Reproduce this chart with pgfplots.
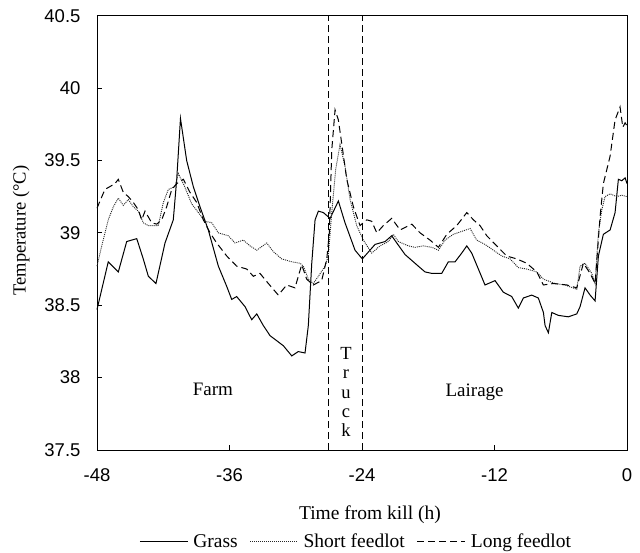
\documentclass[border=0pt]{standalone}
\usepackage{fontspec}
\setmainfont{Liberation Serif}
\newfontfamily\sansf{Liberation Sans}
\usepackage{pgfplots}
\pgfplotsset{compat=1.18}
\begin{document}
\begin{tikzpicture}
\useasboundingbox (-97pt,-102pt) rectangle (543pt,450pt);
\begin{axis}[
  at={(0pt,0pt)}, anchor=south west,
  width=530pt, height=434.3pt, scale only axis,
  xmin=-48, xmax=0, ymin=37.5, ymax=40.5,
  xtick={-48,-36,-24,-12,0},
  ytick={37.5,38,38.5,39,39.5,40,40.5},
  tick align=inside, xtick pos=bottom, ytick pos=left,
  major tick length=5pt,
  axis line style={line width=0.9pt},
  tick style={line width=0.8pt, black},
  /pgf/number format/assume math mode=true,
  ticklabel style={font=\sansf\fontsize{18.5}{20}\selectfont},
  yticklabel style={xshift=-13pt},
  xticklabel style={yshift=-15pt},
  xlabel={Time from kill (h)},
  xlabel style={at={(axis description cs:0.515,-0.150)}, anchor=center, font=\fontsize{19.5}{21}\selectfont},
  ylabel={Temperature (°C)},
  ylabel style={at={(axis description cs:-0.143,0.505)}, anchor=center, rotate=0, font=\fontsize{18.5}{20}\selectfont},
  legend style={at={(axis description cs:0.489,-0.211)}, anchor=center, draw=none, fill=none,
    legend columns=3, font=\fontsize{19.5}{21}\selectfont,
    nodes={inner sep=2pt},
    /tikz/every odd column/.append style={column sep=3pt},
    /tikz/every even column/.append style={column sep=10pt}},
  legend image code/.code={\draw[#1] (0pt,0pt) -- (48pt,0pt);},
  clip=false,
]
% Grass
\addplot[black, line width=1pt] coordinates {
(-48.00,38.47) (-46.98,38.80) (-46.07,38.73) (-45.31,38.94) (-44.40,38.96) (-43.81,38.82) (-43.35,38.70) (-42.66,38.65) (-41.84,38.93) (-41.09,39.09) (-40.78,39.37) (-40.44,39.79) (-39.88,39.50) (-39.28,39.32) (-38.67,39.18) (-37.92,39.02) (-37.01,38.77) (-36.25,38.63) (-35.80,38.54) (-35.35,38.56) (-34.59,38.49) (-33.99,38.40) (-33.53,38.44) (-32.94,38.36) (-32.33,38.29) (-31.12,38.22) (-30.36,38.15) (-29.77,38.18) (-29.16,38.17) (-28.86,38.36) (-28.55,38.79) (-28.25,39.09) (-27.95,39.15) (-27.50,39.14) (-26.89,39.10) (-26.14,39.22) (-25.54,39.07) (-24.63,38.88) (-23.97,38.82) (-22.82,38.92) (-21.91,38.94) (-21.31,38.98) (-20.85,38.93) (-20.10,38.85) (-18.90,38.77) (-18.29,38.73) (-17.68,38.72) (-16.78,38.72) (-16.18,38.80) (-15.57,38.80) (-14.97,38.86) (-14.51,38.91) (-14.06,38.86) (-13.46,38.75) (-12.86,38.64) (-11.95,38.67) (-11.20,38.59) (-10.44,38.56) (-9.84,38.48) (-9.39,38.55) (-8.63,38.57) (-8.03,38.55) (-7.57,38.45) (-7.42,38.36) (-7.12,38.31) (-6.81,38.45) (-6.22,38.43) (-5.31,38.42) (-4.55,38.44) (-4.25,38.49) (-3.80,38.62) (-3.34,38.57) (-2.89,38.53) (-2.59,38.84) (-2.14,38.99) (-1.53,39.02) (-1.08,39.14) (-0.78,39.37) (-0.47,39.36) (-0.17,39.38) (0,39.34)
};
\addlegendentry{Grass}
% Short feedlot
\addplot[black!85, line width=0.9pt, dash pattern=on 1pt off 1pt] coordinates {
(-48.00,38.77) (-47.57,38.91) (-46.98,39.09) (-46.52,39.18) (-46.07,39.24) (-45.62,39.19) (-45.16,39.23) (-44.71,39.18) (-44.26,39.15) (-43.81,39.07) (-43.35,39.05) (-42.90,39.05) (-42.45,39.05) (-41.99,39.21) (-41.54,39.30) (-40.93,39.32) (-40.64,39.41) (-40.12,39.33) (-39.42,39.20) (-38.82,39.14) (-38.22,39.08) (-37.61,39.07) (-37.01,39.00) (-36.11,38.98) (-35.50,38.93) (-34.75,38.95) (-34.14,38.91) (-33.53,38.88) (-32.63,38.93) (-32.03,38.87) (-31.27,38.82) (-30.36,38.80) (-29.61,38.79) (-29.31,38.77) (-28.86,38.68) (-28.41,38.65) (-27.95,38.70) (-27.35,38.77) (-27.05,38.84) (-26.74,39.14) (-26.38,39.44) (-25.99,39.61) (-25.54,39.46) (-25.08,39.23) (-24.48,39.05) (-23.88,38.95) (-23.12,38.86) (-22.37,38.91) (-21.61,38.94) (-21.16,38.99) (-20.71,38.94) (-19.80,38.91) (-19.20,38.90) (-18.44,38.91) (-17.68,38.90) (-17.08,38.88) (-16.48,38.95) (-15.73,38.99) (-14.97,39.01) (-14.21,39.03) (-13.61,38.95) (-12.86,38.92) (-12.10,38.88) (-11.34,38.84) (-10.59,38.82) (-9.84,38.76) (-9.08,38.75) (-8.17,38.73) (-7.57,38.68) (-6.51,38.65) (-5.61,38.64) (-4.55,38.61) (-4.25,38.77) (-3.80,38.79) (-3.19,38.72) (-2.89,38.65) (-2.59,39.00) (-2.28,39.16) (-1.99,39.25) (-1.53,39.27) (-0.93,39.25) (-0.47,39.26) (0,39.25)
};
\addlegendentry{Short feedlot}
% Long feedlot
\addplot[black, line width=1pt, dash pattern=on 7pt off 4pt] coordinates {
(-48.00,39.17) (-47.73,39.22) (-47.28,39.30) (-46.82,39.32) (-46.37,39.34) (-46.07,39.37) (-45.62,39.28) (-45.16,39.25) (-44.71,39.21) (-44.26,39.16) (-43.95,39.09) (-43.65,39.15) (-43.35,39.11) (-43.05,39.07) (-42.59,39.06) (-42.14,39.09) (-41.69,39.18) (-41.23,39.30) (-40.78,39.34) (-40.18,39.37) (-39.58,39.28) (-38.97,39.21) (-38.37,39.09) (-37.76,39.00) (-37.16,38.93) (-36.25,38.84) (-35.35,38.77) (-34.44,38.75) (-33.84,38.70) (-33.24,38.72) (-32.48,38.65) (-31.58,38.57) (-30.82,38.64) (-30.07,38.62) (-29.46,38.78) (-29.01,38.68) (-28.41,38.64) (-27.65,38.67) (-27.19,38.82) (-26.96,39.00) (-26.74,39.57) (-26.44,39.85) (-26.14,39.78) (-25.84,39.62) (-25.38,39.37) (-24.78,39.18) (-24.18,39.05) (-23.57,39.09) (-23.12,39.08) (-22.66,39.00) (-22.07,39.05) (-21.31,39.10) (-20.55,39.02) (-19.49,39.06) (-18.74,39.00) (-17.84,38.95) (-17.08,38.90) (-16.32,38.99) (-15.42,39.05) (-14.51,39.14) (-13.91,39.09) (-13.31,39.05) (-12.70,38.98) (-11.80,38.91) (-10.89,38.84) (-9.98,38.82) (-9.08,38.79) (-8.17,38.73) (-7.57,38.64) (-6.67,38.65) (-5.45,38.64) (-4.55,38.62) (-3.95,38.79) (-3.34,38.72) (-2.89,38.65) (-2.44,39.11) (-2.14,39.34) (-1.53,39.53) (-1.08,39.78) (-0.63,39.87) (-0.38,39.73) (-0.17,39.76) (0,39.74)
};
\addlegendentry{Long feedlot}
% transport period boundaries
\addplot[black, line width=0.9pt, dash pattern=on 7pt off 4pt, forget plot] coordinates {(-27,37.5) (-27,40.5)};
\addplot[black, line width=0.9pt, dash pattern=on 7pt off 4pt, forget plot] coordinates {(-24,37.5) (-24,40.5)};
\node[font=\fontsize{19}{21}\selectfont] at (axis cs:-37.5,37.92) {Farm};
\node[font=\fontsize{19}{21}\selectfont] at (axis cs:-13.8,37.90) {Lairage};
\node[font=\fontsize{18.5}{19.2}\selectfont, align=center, inner sep=0pt] at (axis cs:-25.45,37.90) {T\\r\\u\\c\\k};
\end{axis}
\end{tikzpicture}
\end{document}
